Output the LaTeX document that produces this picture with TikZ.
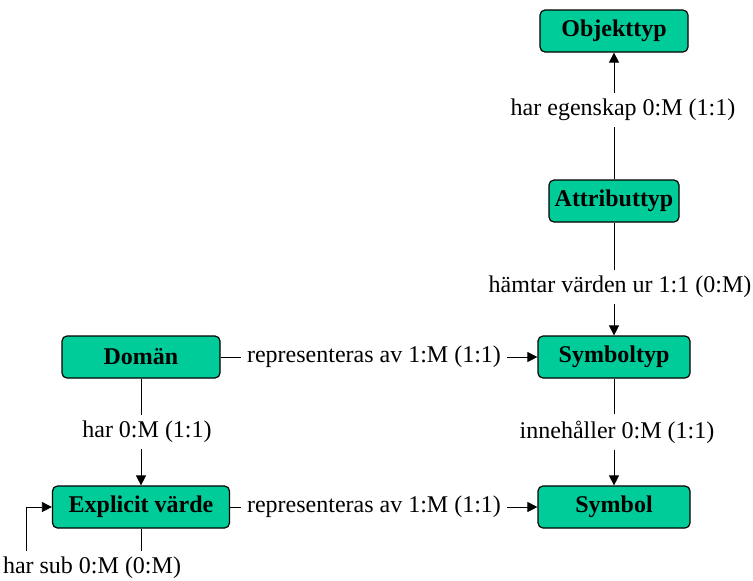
\documentclass[tikz,border=0pt]{standalone}
\usepackage{fontspec}
\setmainfont{Liberation Serif}
\usetikzlibrary{arrows.meta}
\definecolor{boxgreen}{RGB}{0,204,153}

\tikzset{
  >={Triangle[length=5pt,width=5pt]},   % default arrow tip
  entity/.style={draw, fill=boxgreen, rounded corners=2.5pt, line width=0.6pt,
                 minimum height=21pt, inner sep=0pt, font=\fontsize{12}{14}\selectfont\bfseries},
  rel/.style={inner sep=3pt, font=\fontsize{12}{14}\selectfont}
}

\begin{document}
\begin{tikzpicture}[x=0.5pt,y=-0.5pt]
	\useasboundingbox (0,0) rectangle (753,580);
	% boxes
	\node[entity, minimum width=74pt] (obj) at (614,31) {Objekttyp};
	\node[entity, minimum width=65pt] (attr) at (614,201) {Attributtyp};
	\node[entity, minimum width=76pt] (symtyp) at (614,357) {Symboltyp};
	\node[entity, minimum width=76pt] (sym) at (614,507) {Symbol};
	\node[entity, minimum width=79pt] (dom) at (141,357) {Domän};
	\node[entity, minimum width=88.5pt] (ev) at (141,507) {Explicit värde};

	% relation labels
	\node[rel] (egen) at (623,110) {har egenskap 0:M (1:1)};
	\node[rel] (hamt) at (620,287) {hämtar värden ur 1:1 (0:M)};
	\node[rel] (inneh) at (617,432) {innehåller 0:M (1:1)};
	\node[rel] (har) at (147,432) {har 0:M (1:1)};
	\node[rel] (rep1) at (374,357) {representeras av 1:M (1:1)};
	\node[rel] (rep2) at (374,507) {representeras av 1:M (1:1)};
	\node[rel] (sub) at (92,568) {har sub 0:M (0:M)};
	\coordinate (loopx) at (26,0);

	% connectors
	\draw (attr.north) -- (attr.north |- egen.south);
	\draw[->] (obj.south |- egen.north) -- (obj.south);
	\draw (attr.south) -- (attr.south |- hamt.north);
	\draw[->] (symtyp.north |- hamt.south) -- (symtyp.north);
	\draw (symtyp.south) -- (symtyp.south |- inneh.north);
	\draw[->] (sym.north |- inneh.south) -- (sym.north);
	\draw (dom.south) -- (dom.south |- har.north);
	\draw[->] (ev.north |- har.south) -- (ev.north);
	\draw (dom.east) -- (rep1.west);
	\draw[->] (rep1.east) -- (symtyp.west);
	\draw (ev.east) -- (rep2.west);
	\draw[->] (rep2.east) -- (sym.west);
	% self loop
	\draw (ev.south) -- (ev.south |- sub.north);
	\draw[->] (loopx |- sub.north) |- (ev.west);
\end{tikzpicture}
\end{document}
